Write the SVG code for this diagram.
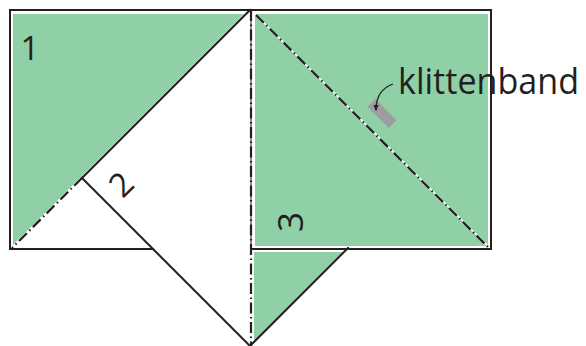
<svg xmlns="http://www.w3.org/2000/svg" width="586" height="346" viewBox="0 0 586 346">
<defs>
<style>
.green{fill:#8fd0a6;}
.solid{stroke:#231f20;stroke-width:2;fill:none;stroke-linecap:square;}
.dash{stroke:#231f20;stroke-width:2.2;fill:none;stroke-dasharray:11 3.5 1.5 3.5;}
.white{stroke:#ffffff;stroke-width:1.5;fill:none;}
.lbl{font-family:"Open Sans","Liberation Sans",sans-serif;fill:#231f20;}
</style>
<marker id="ah" viewBox="0 0 10 10" refX="8" refY="5" markerWidth="5" markerHeight="5" orient="auto">
<path d="M0,1 L10,5 L0,9 Z" fill="#231f20"/>
</marker>
</defs>
<rect width="586" height="346" fill="#ffffff"/>
<g id="panel1">
<polygon class="green" points="13,14 244,14 13,245"/>
<text class="lbl" x="30" y="60" font-size="33" text-anchor="middle">1</text>
</g>
<g id="panel2">
<text class="lbl" x="121" y="196" font-size="33" text-anchor="middle" transform="rotate(-45 121 184)">2</text>
</g>
<g id="panel3">
<rect class="green" x="255" y="14" width="233" height="232"/>
<polygon class="green" points="254,252 343,252 254,341"/>
<text class="lbl" x="291" y="234" font-size="35" text-anchor="middle" transform="rotate(-90 291 222)">3</text>
</g>
<g id="klittenband">
<rect x="367" y="108" width="30" height="11" fill="#9d9d9f" transform="rotate(45 382 113.5)"/>
<text class="lbl" x="398" y="94" font-size="36" textLength="181" lengthAdjust="spacingAndGlyphs">klittenband</text>
</g>
<g id="connectors">
<line class="white" x1="255" y1="14" x2="488" y2="246"/>
<line class="dash" x1="256" y1="15" x2="488" y2="247"/>
<line class="solid" x1="10" y1="10" x2="491" y2="10"/>
<line class="solid" x1="10" y1="10" x2="10" y2="249"/>
<line class="solid" x1="10" y1="249" x2="153" y2="249"/>
<line class="solid" x1="251" y1="249" x2="491" y2="249"/>
<line class="solid" x1="491" y1="10" x2="491" y2="249"/>
<line stroke="#231f20" stroke-width="1" x1="251" y1="10" x2="251" y2="249"/>
<line class="dash" x1="251" y1="10" x2="251" y2="346"/>
<line class="solid" x1="250" y1="10" x2="82" y2="178"/>
<line class="dash" x1="82" y1="178" x2="12" y2="248"/>
<line class="solid" x1="82" y1="178" x2="250" y2="346"/>
<line class="solid" x1="250" y1="346" x2="348" y2="248"/>
<path d="M393,84 Q376,90 376,110" stroke="#231f20" stroke-width="1.3" fill="none" marker-end="url(#ah)"/>
</g>
</svg>
